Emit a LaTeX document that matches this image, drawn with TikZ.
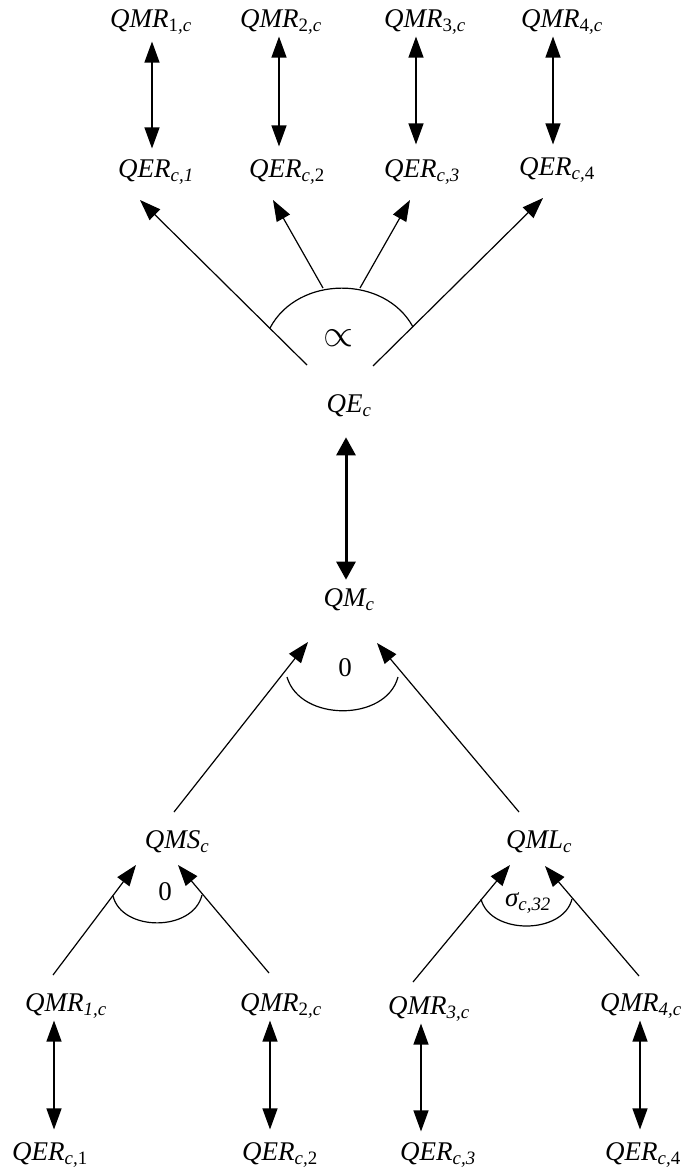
\documentclass[tikz,border=0pt]{standalone}
\usepackage{fontspec}
\usepackage{graphicx}
\setmainfont{Liberation Serif}
\usetikzlibrary{arrows.meta}
\begin{document}
\begin{tikzpicture}[x=1pt,y=-1pt,
  lbl/.style={font=\fontsize{27}{30}\selectfont\itshape,inner sep=2pt},
  arr/.style={-{Triangle[length=21pt,width=15pt]},line width=1.2pt},
  dbl/.style={{Triangle[length=21pt,width=15pt]}-{Triangle[length=21pt,width=15pt]},line width=1.2pt},
  thick dbl/.style={{Triangle[length=18pt,width=19pt]}-{Triangle[length=18pt,width=19pt]},line width=3pt},
  arc/.style={line width=1.2pt}]
        \useasboundingbox (0,0) rectangle (686,1169);
        % top row
        \node[lbl] (tmr1) at (151,22) {QMR\textsubscript{\upshape 1\itshape ,c}};
        \node[lbl] (tmr2) at (281,22) {QMR\textsubscript{\upshape 2\itshape ,c}};
        \node[lbl] (tmr3) at (425,22) {QMR\textsubscript{\upshape 3\itshape ,c}};
        \node[lbl] (tmr4) at (562,22) {QMR\textsubscript{\upshape 4\itshape ,c}};
        \node[lbl] (ter1) at (156,172) {QER\textsubscript{c,1}};
        \node[lbl] (ter2) at (287,172) {QER\textsubscript{c,\upshape 2}};
        \node[lbl] (ter3) at (422,172) {QER\textsubscript{c,3}};
        \node[lbl] (ter4) at (557,170) {QER\textsubscript{c,\upshape 4}};
        \draw[dbl,shorten <=5pt,shorten >=9pt] (tmr1.south -| 152,0) -- (ter1.north -| 152,0);
        \draw[dbl,shorten <=0pt,shorten >=11pt] (tmr2.south -| 279,0) -- (ter2.north -| 279,0);
        \draw[dbl,shorten <=0pt,shorten >=13pt] (tmr3.south -| 416,0) -- (ter3.north -| 416,0);
        \draw[dbl,shorten <=0pt,shorten >=11pt] (tmr4.south -| 553,0) -- (ter4.north -| 553,0);
        % fan from QE
        \node[lbl] (qe) at (349,406) {QE\textsubscript{c}};
        \coordinate (f1) at (307,365);
        \coordinate (f2) at (323,288);
        \coordinate (f3) at (360,288);
        \coordinate (f4) at (373,366);
        \coordinate (g1) at (140,200);
        \coordinate (g2) at (273,200);
        \coordinate (g3) at (410,200);
        \coordinate (g4) at (543,198);
        \draw[arr] (f1)--(g1);
        \draw[arr] (f2)--(g2);
        \draw[arr] (f3)--(g3);
        \draw[arr] (f4)--(g4);
        \draw[arc] (270,328) .. controls (298,275) and (385,275) .. (413,327);
        \node[font=\fontsize{24}{24}\selectfont,inner sep=0pt] (prop) at (338,338) {\scalebox{1.55}{$\propto$}};
        % QE -- QM
        \node[lbl] (qm) at (349,600) {QM\textsubscript{c}};
        \draw[thick dbl,shorten <=18pt,shorten >=7pt] (qe.south -| 346,0) -- (qm.north -| 346,0);
        % middle level
        \node[lbl] (qms) at (177,842) {QMS\textsubscript{c}};
        \node[lbl] (qml) at (539,842) {QML\textsubscript{c}};
        \coordinate (m1) at (174,812);
        \coordinate (m2) at (519,812);
        \coordinate (n1) at (308,642);
        \coordinate (n2) at (377,643);
        \draw[arr] (m1)--(n1);
        \draw[arr] (m2)--(n2);
        \draw[arc] (287,677) .. controls (300,722) and (386,722) .. (398,677);
        \node[lbl,font=\fontsize{27}{30}\selectfont] (zero1) at (345,668) {0};
        % bottom row
        \node[lbl] (bmr1) at (66,1006) {QMR\textsubscript{1,c}};
        \node[lbl] (bmr2) at (281,1006) {QMR\textsubscript{\upshape 2\itshape ,c}};
        \node[lbl] (bmr3) at (429,1009) {QMR\textsubscript{3,c}};
        \node[lbl] (bmr4) at (641,1006) {QMR\textsubscript{4,c}};
        \node[lbl] (ber1) at (50,1155) {QER\textsubscript{c,\upshape 1}};
        \node[lbl] (ber2) at (280,1155) {QER\textsubscript{c,\upshape 2}};
        \node[lbl] (ber3) at (438,1155) {QER\textsubscript{c,3}};
        \node[lbl] (ber4) at (643,1155) {QER\textsubscript{c,\upshape 4}};
        \coordinate (p1) at (53,975);
        \coordinate (p2) at (269,973);
        \coordinate (p3) at (413,982);
        \coordinate (p4) at (639,976);
        \coordinate (q1) at (136,865);
        \coordinate (q2) at (178,865);
        \coordinate (q3) at (510,865);
        \coordinate (q4) at (545,866);
        \draw[arr] (p1)--(q1);
        \draw[arr] (p2)--(q2);
        \draw[arr] (p3)--(q3);
        \draw[arr] (p4)--(q4);
        \draw[arc] (113,896) .. controls (122,932) and (193,932) .. (202,895);
        \draw[arc] (481,899) .. controls (490,935) and (563,935) .. (572,899);
        \node[lbl,font=\fontsize{27}{30}\selectfont] (zero2) at (165,892) {0};
        \node[lbl] (sig) at (528,903) {σ\textsubscript{c,32}};
        \draw[dbl,shorten <=0pt,shorten >=11pt] (bmr1.south -| 54,0) -- (ber1.north -| 54,0);
        \draw[dbl,shorten <=0pt,shorten >=11pt] (bmr2.south -| 270,0) -- (ber2.north -| 270,0);
        \draw[dbl,shorten <=0pt,shorten >=9pt] (bmr3.south -| 421,0) -- (ber3.north -| 421,0);
        \draw[dbl,shorten <=0pt,shorten >=11pt] (bmr4.south -| 640,0) -- (ber4.north -| 640,0);
\end{tikzpicture}
\end{document}
